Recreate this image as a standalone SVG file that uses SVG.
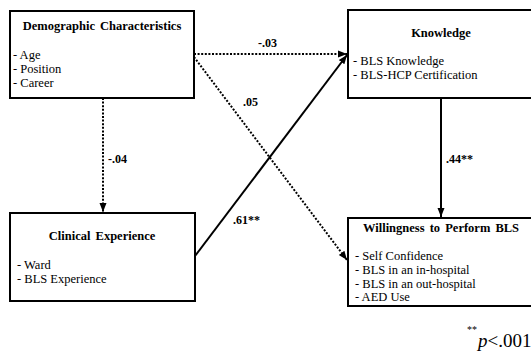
<svg xmlns="http://www.w3.org/2000/svg" width="531" height="352" viewBox="0 0 531 352" font-family="Liberation Serif, Times New Roman, serif">
<style>
text{font-family:"Liberation Serif","Times New Roman",serif}
.box{fill:#fff;stroke:#000;stroke-width:2}
.t{font-weight:bold;font-size:12.5px;text-anchor:middle;word-spacing:2px}
.i{font-size:12.5px}
.l{font-weight:bold;font-size:12px}
.c{fill:none;stroke:#000;stroke-width:2}
.d{stroke-dasharray:2 1.6}
</style>
<defs>
<marker id="ah" markerUnits="userSpaceOnUse" markerWidth="10" markerHeight="10" viewBox="0 0 10 10" refX="9" refY="5" orient="auto">
<path d="M0,1.5 L9,5 L0,8.5 Z" fill="#000"/>
</marker>
</defs>
<g id="connectors">
<line class="c d" x1="194" y1="54" x2="347" y2="54" marker-end="url(#ah)"/>
<line class="c d" x1="194" y1="57" x2="347" y2="260" marker-end="url(#ah)"/>
<line class="c d" x1="103" y1="98" x2="103" y2="212" marker-end="url(#ah)"/>
<line class="c" x1="195" y1="256" x2="347" y2="55" marker-end="url(#ah)"/>
<line class="c" x1="441" y1="98" x2="441" y2="217" marker-end="url(#ah)"/>
<text class="l" x="258" y="47">-.03</text>
<text class="l" x="243" y="106">.05</text>
<text class="l" x="108" y="163">-.04</text>
<text class="l" x="233" y="224">.61**</text>
<text class="l" x="446" y="163">.44**</text>
</g>
<g id="demographic">
<rect class="box" x="10" y="11" width="184" height="87"/>
<text class="t" x="102" y="30">Demographic Characteristics</text>
<text class="i" x="13" y="59">- Age</text>
<text class="i" x="13" y="73">- Position</text>
<text class="i" x="13" y="87">- Career</text>
</g>
<g id="knowledge">
<rect class="box" x="348" y="10" width="190" height="88"/>
<text class="t" x="441" y="37">Knowledge</text>
<text class="i" x="353" y="65">- BLS Knowledge</text>
<text class="i" x="353" y="79">- BLS-HCP Certification</text>
</g>
<g id="clinical">
<rect class="box" x="10" y="213" width="185" height="88"/>
<text class="t" x="102" y="240">Clinical Experience</text>
<text class="i" x="17" y="269">- Ward</text>
<text class="i" x="17" y="283">- BLS Experience</text>
</g>
<g id="willingness">
<rect class="box" x="348" y="218" width="190" height="88"/>
<text class="t" x="441" y="232">Willingness to Perform BLS</text>
<text class="i" x="355" y="260">- Self Confidence</text>
<text class="i" x="355" y="274">- BLS in an in-hospital</text>
<text class="i" x="355" y="288">- BLS in an out-hospital</text>
<text class="i" x="355" y="301">- AED Use</text>
</g>
<g id="footnote">
<text x="467" y="333" font-size="10">**</text>
<text x="478" y="347" font-size="19"><tspan font-style="italic">p</tspan>&lt;.001</text>
</g>
</svg>
